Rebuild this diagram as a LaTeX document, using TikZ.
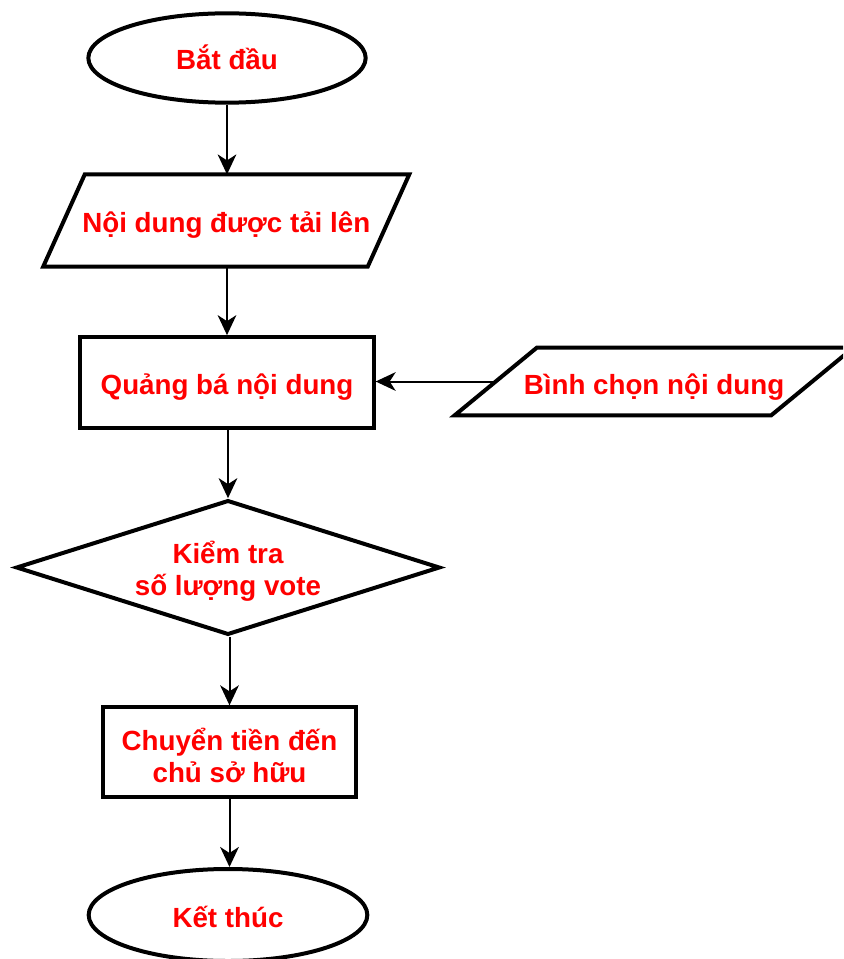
\documentclass[tikz,border=0pt]{standalone}
\usepackage{fontspec}
\setmainfont{Liberation Sans}
\usetikzlibrary{shapes.geometric,arrows.meta,calc}
\definecolor{labelred}{RGB}{255,0,0}
\begin{document}
\begin{tikzpicture}[x=0.75pt,y=-0.75pt,
  labeltext/.style={inner sep=0pt, text=labelred, align=center,
    font=\bfseries\fontsize{20.8}{24}\selectfont},
  % single-line labels: baseline set #1/2 below the node centre
  oneline/.style={text height=#1, text depth=0pt},
  base/.style={labeltext, draw=black, line width=3pt},
  terminal/.style={base, ellipse, minimum width=208pt, minimum height=67pt},
  iobox/.style={labeltext, rectangle},
  outline/.style={draw=black, line width=3pt, line join=miter},
  procbox/.style={base, rectangle},
  decision/.style={base, diamond, aspect=3.1, minimum width=318pt, minimum height=101pt},
  arr/.style={draw=black, line width=1.5pt, -{Stealth[length=15pt, width=14pt, inset=4.5pt]}}
]
\clip (0,0) rectangle (843,959);

% main column
\node[terminal, oneline=16.9pt] (start) at (227,58) {Bắt đầu};

\node[iobox, oneline=18.3pt, minimum width=243pt, minimum height=68.7pt] (upload) at (226.25,220.5) {Nội dung được tải lên};
\draw[outline] ($(upload.north west)+(20.75,0)$) -- ($(upload.north east)+(20.75,0)$)
  -- ($(upload.south east)+(-20.75,0)$) -- ($(upload.south west)+(-20.75,0)$) -- cycle;

\node[procbox, oneline=18pt, minimum width=220pt, minimum height=68pt] (promote) at (227,382.5) {Quảng bá nội dung};

\node[decision] (check) at (228,567.5) {};
\node[labeltext] (checktext) at (228,571.5) {Kiểm tra\\số lượng vote};

\node[procbox, minimum width=190pt, minimum height=67pt] (pay) at (229.5,752) {};
\node[labeltext] (paytext) at (229.5,755) {Chuyển tiền đến\\chủ sở hữu};

\node[terminal, oneline=19pt, minimum width=209pt, minimum height=69pt] (finish) at (228,915) {Kết thúc};

% side input
\node[iobox, oneline=19.5pt, minimum width=237pt, minimum height=50.25pt] (vote) at (654,381.5) {Bình chọn nội dung};
\draw[outline] ($(vote.north west)+(41,0)$) -- ($(vote.north east)+(41,0)$)
  -- ($(vote.south east)+(-41,0)$) -- ($(vote.south west)+(-41,0)$) -- cycle;

% connectors
\draw[arr] (start) -- (start |- upload.north);
\draw[arr] (upload.south -| start) -- (promote.north -| start);
\draw[arr] (promote.south -| check) -- (check.north);
\draw[arr] (pay.north |- check.south) -- (pay.north);
\draw[arr] (pay.south) -- (pay.south |- finish.north);
\draw[arr] (vote.west) -- (vote.west -| promote.east);
\end{tikzpicture}
\end{document}
